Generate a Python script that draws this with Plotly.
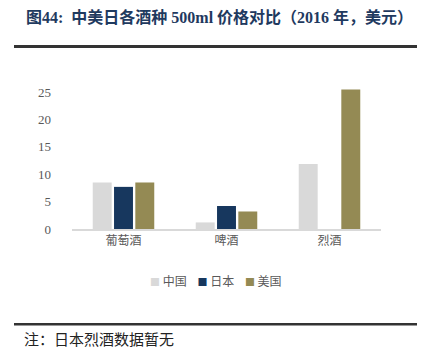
import plotly.graph_objects as go

categories = ["葡萄酒", "啤酒", "烈酒"]
china = [8.5, 1.2, 11.9]
japan = [7.7, 4.2, None]
usa = [8.5, 3.2, 25.5]
series_names = ["中国", "日本", "美国"]
colors = ["#D9D9D9", "#17375E", "#948A54"]
yticks = [0, 5, 10, 15, 20, 25]

W, H = 422, 362
L, R = 72, 381
T, B = 84.3, 229.0
pw, ph = R - L, B - T

def xp(px):
    return (px - L) / pw

def yp(py):
    return 1 - (py - T) / ph

fig = go.Figure()
for name, vals, c in zip(series_names, [china, japan, usa], colors):
    fig.add_trace(go.Bar(x=categories, y=vals, name=name, marker_color=c,
                         marker_line_width=0, showlegend=False))

serif = "Liberation Serif, Times New Roman, Noto Sans CJK SC"
cjk = "Noto Sans CJK SC"
fig.update_layout(
    width=W, height=H,
    margin=dict(l=L, r=W - R, t=T, b=H - B, pad=0),
    paper_bgcolor="white", plot_bgcolor="white",
    barmode="group", bargap=0.38, bargroupgap=0.11,
    font=dict(family=serif, size=12, color="#595959"),
    xaxis=dict(showline=True, linecolor="#D9D9D9", linewidth=1.5, ticks="",
               tickfont=dict(size=12, color="#595959", family=cjk), showgrid=False),
    yaxis=dict(range=[0, 26.5], tickvals=yticks, showgrid=False, zeroline=False,
               showline=False, ticks="", ticklabelstandoff=20,
               tickfont=dict(size=13, color="#595959", family=serif)),
    showlegend=False,
)

# legend built from the series names and colours
legend_text = "    ".join(
    f'<span style="color:{c};font-size:10px">■</span> {n}'
    for n, c in zip(series_names, colors)
)
fig.add_annotation(text=legend_text, xref="paper", yref="paper",
                   x=xp(216), y=yp(280), xanchor="center", yanchor="middle",
                   showarrow=False, font=dict(size=12, color="#595959", family=cjk))

fig.add_annotation(text="<b>图44:  中美日各酒种 500ml 价格对比（2016 年，美元）</b>",
                   xref="paper", yref="paper", x=xp(24), y=yp(17),
                   xanchor="left", yanchor="middle", showarrow=False,
                   font=dict(size=16, color="#1F3A5F", family=serif))
fig.add_annotation(text="注：日本烈酒数据暂无",
                   xref="paper", yref="paper", x=xp(22), y=yp(340),
                   xanchor="left", yanchor="middle", showarrow=False,
                   font=dict(size=15, color="#222222", family=serif))
fig.add_shape(type="line", xref="paper", yref="paper",
              x0=xp(14), x1=xp(417), y0=yp(47), y1=yp(47),
              line=dict(color="#333333", width=3))
fig.add_shape(type="line", xref="paper", yref="paper",
              x0=xp(14), x1=xp(417), y0=yp(324), y1=yp(324),
              line=dict(color="#333333", width=2.5))

fig.write_html("out.html", config={"displayModeBar": False},
               post_script="document.body.style.margin='0';")
